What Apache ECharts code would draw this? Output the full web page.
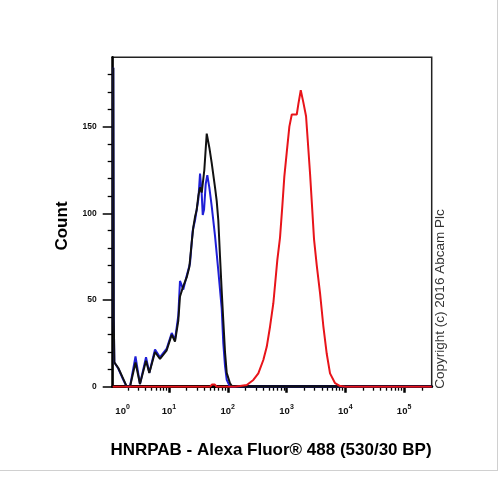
<!DOCTYPE html>
<html><head><meta charset="utf-8">
<script src="https://cdn.jsdelivr.net/npm/echarts@6/dist/echarts.min.js"></script>
<style>html,body{margin:0;padding:0;background:#fff}#c{width:504px;height:477px}</style>
</head><body><div id="c"></div>
<script>
// x values are log10 of fluorescence intensity (decades), y values are event counts
const xMin = 0.042, xMax = 5.47;
const yMin = 0, yMax = 190;
const yMajorTicks = [0, 50, 100, 150];
const yMinorTicks = [10,20,30,40,60,70,80,90,110,120,130,140,160,170,180];
const xMajorTicks = [1, 2, 3, 4, 5];
const xLabelPos = [0.21, 1, 2, 3, 4, 5];

const blackX = [0.052,0.06,0.07,0.137,0.222,0.28,0.336,0.43,0.506,0.609,0.665,0.762,0.847,0.961,1.046,1.102,1.158,1.187,1.243,1.301,1.346,1.386,1.414,1.443,1.471,1.499,1.528,1.557,1.584,1.601,1.642,1.686,1.727,1.783,1.812,1.839,1.868,1.897,1.924,1.953,1.982,2.038,2.067,2.152,5.47];
const blackY = [184,40,14,10.8,4.5,0,0,14,1.6,15,7.9,20,16,21,30,26,38,52,58,63,69,83,92,98,102,110,115,112,113,125,146,138,129,115,107,96,75,55,38,20,8,2,0.5,0,0];

const blueX = [0.052,0.06,0.07,0.137,0.222,0.28,0.336,0.43,0.506,0.609,0.665,0.762,0.847,0.961,1.046,1.102,1.158,1.187,1.243,1.272,1.301,1.357,1.403,1.443,1.471,1.499,1.528,1.557,1.574,1.596,1.625,1.652,1.686,1.727,1.783,1.839,1.897,1.924,1.953,1.982,2.038,5.47];
const blueY = [184,40,14,10.5,4,0,0,17.5,1.5,17,8,21.5,17,22,31,27,41,61,56,55,64,71,90,96,102,108,123,111,99,102,117,122,115,104,87,67,45,25,12,4,0,0];

const redX = [0.042,1.70,1.73,1.78,1.81,2.123,2.209,2.323,2.435,2.52,2.605,2.663,2.719,2.775,2.843,2.889,2.928,2.962,3.003,3.048,3.089,3.116,3.174,3.201,3.242,3.286,3.332,3.361,3.4,3.434,3.468,3.514,3.57,3.626,3.684,3.74,3.826,3.911,4.0,5.47];
const redY = [0,0,1.2,1.2,0,0,0.4,1,3.9,7.7,15.4,23,34.6,48,73,86,104,121,135,150,157,158,157,163,171,164,156,142,123,104,85,70,54,35,19,7.7,2,0.4,0,0];

const FONT = 'Liberation Sans, Arial, Helvetica, sans-serif';

// minor ticks at 2..9 times each decade
const xMinorTicks = [];
for (let d = 0; d <= 5; d++) {
  for (let k = 2; k <= 9; k++) {
    const v = d + Math.log10(k);
    if (v > xMin && v < xMax) xMinorTicks.push(v);
  }
}
const zip = (a, b) => a.map((v, i) => [v, b[i]]);

const chart = echarts.init(document.getElementById('c'), null, {renderer: 'canvas'});
const option = {
  animation: false,
  backgroundColor: '#fff',
  grid: {left: 112.7, top: 57.3, right: 72.3, bottom: 90.3, show: true,
         borderColor: '#222', borderWidth: 1.5, backgroundColor: 'transparent'},
  xAxis: [{
    type: 'value', min: xMin, max: xMax, position: 'bottom', gridIndex: 0,
    axisLine: {show: true, onZero: false, lineStyle: {color: '#000', width: 3}},
    axisTick: {show: true, customValues: xMajorTicks, length: 6, lineStyle: {color: '#000', width: 2.5}},
    axisLabel: {show: true, customValues: xLabelPos, margin: 15,
      formatter: v => '{b|10}{s|' + Math.round(v) + '}',
      rich: {
        b: {fontSize: 9.5, fontWeight: 'bold', fontFamily: FONT, color: '#111', padding: [5, 0, 0, 0]},
        s: {fontSize: 7, fontWeight: 'bold', fontFamily: FONT, color: '#111', padding: [0, 0, 5, 0]}
      }},
    splitLine: {show: false}
  }, {
    type: 'value', min: xMin, max: xMax, position: 'bottom', gridIndex: 0,
    axisLine: {show: false, onZero: false},
    axisTick: {show: true, customValues: xMinorTicks, length: 4, lineStyle: {color: '#000', width: 1.3}},
    axisLabel: {show: false},
    splitLine: {show: false}
  }],
  yAxis: [{
    type: 'value', min: yMin, max: yMax, position: 'left', gridIndex: 0,
    axisLine: {show: true, onZero: false, lineStyle: {color: '#000', width: 2.5}},
    axisTick: {show: true, customValues: yMajorTicks, length: 10, lineStyle: {color: '#000', width: 1.5}},
    axisLabel: {show: true, customValues: yMajorTicks, margin: 16, fontSize: 8.5, fontWeight: 'bold',
      fontFamily: FONT, color: '#111'},
    splitLine: {show: false}
  }, {
    type: 'value', min: yMin, max: yMax, position: 'left', gridIndex: 0,
    axisLine: {show: false, onZero: false},
    axisTick: {show: true, customValues: yMinorTicks, length: 5, lineStyle: {color: '#000', width: 1.3}},
    axisLabel: {show: false},
    splitLine: {show: false}
  }],
  series: [
    {type: 'line', name: 'blue', data: zip(blueX, blueY), showSymbol: false, xAxisIndex: 0, yAxisIndex: 0,
     lineStyle: {color: '#1f1fd6', width: 2}, itemStyle: {color: '#1f1fd6'}, z: 3},
    {type: 'line', name: 'black', data: zip(blackX, blackY), showSymbol: false, xAxisIndex: 0, yAxisIndex: 0,
     lineStyle: {color: '#111', width: 2}, itemStyle: {color: '#111'}, z: 4},
    {type: 'line', name: 'red', data: zip(redX, redY), showSymbol: false, xAxisIndex: 0, yAxisIndex: 0,
     lineStyle: {color: '#e8141a', width: 2}, itemStyle: {color: '#e8141a'}, z: 5}
  ],
  graphic: [
    {type: 'line', shape: {x1: 497.5, y1: 0, x2: 497.5, y2: 470}, style: {stroke: '#d0d0d0', lineWidth: 1}, silent: true},
    {type: 'line', shape: {x1: 0, y1: 470.5, x2: 498, y2: 470.5}, style: {stroke: '#d0d0d0', lineWidth: 1}, silent: true},
    {type: 'text', x: 62, y: 226, rotation: Math.PI / 2,
     style: {text: 'Count', font: 'bold 17px ' + FONT, fill: '#000', align: 'center', verticalAlign: 'middle'}},
    {type: 'text', x: 271, y: 450,
     style: {text: 'HNRPAB - Alexa Fluor® 488 (530/30 BP)', font: 'bold 17px ' + FONT, fill: '#000', align: 'center', verticalAlign: 'middle'}},
    {type: 'text', x: 440, y: 299, rotation: Math.PI / 2,
     style: {text: 'Copyright (c) 2016 Abcam Plc', font: '13.5px ' + FONT, fill: '#333', align: 'center', verticalAlign: 'middle'}}
  ]
};
chart.setOption(option);
</script>
</body></html>
